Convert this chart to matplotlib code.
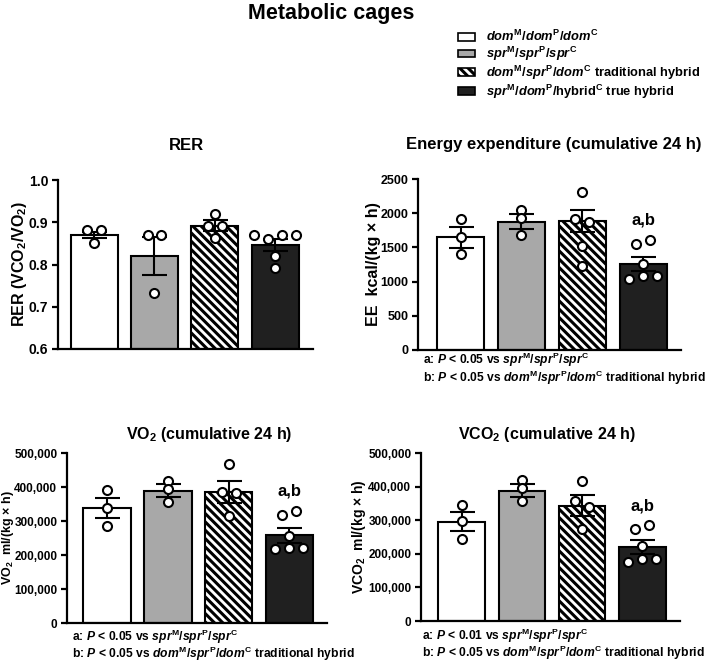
import matplotlib.pyplot as plt
import numpy as np
from matplotlib.patches import Patch
from matplotlib.ticker import FuncFormatter

plt.rcParams['font.family'] = ['Liberation Sans', 'DejaVu Sans']
plt.rcParams['font.weight'] = 'bold'
plt.rcParams['mathtext.fontset'] = 'custom'
plt.rcParams['mathtext.rm'] = 'Liberation Sans:bold'
plt.rcParams['mathtext.it'] = 'Liberation Sans:italic:bold'
plt.rcParams['mathtext.bf'] = 'Liberation Sans:bold'
plt.rcParams['hatch.linewidth'] = 2.2

# groups
group_labels = [
    r'$\mathit{dom}^{\mathrm{M}}/\mathit{dom}^{\mathrm{P}}/\mathit{dom}^{\mathrm{C}}$',
    r'$\mathit{spr}^{\mathrm{M}}/\mathit{spr}^{\mathrm{P}}/\mathit{spr}^{\mathrm{C}}$',
    r'$\mathit{dom}^{\mathrm{M}}/\mathit{spr}^{\mathrm{P}}/\mathit{dom}^{\mathrm{C}}$ traditional hybrid',
    r'$\mathit{spr}^{\mathrm{M}}/\mathit{dom}^{\mathrm{P}}/\mathrm{hybrid}^{\mathrm{C}}$ true hybrid',
]
bar_colors = ['white', '#a8a8a8', 'white', '#202020']
bar_hatches = ['', '', '\\\\\\\\', '']

# RER
rer_mean = [0.870, 0.820, 0.892, 0.846]
rer_sem = [0.008, 0.045, 0.013, 0.014]
rer_points = [[0.882, 0.882, 0.851],
              [0.869, 0.869, 0.732],
              [0.920, 0.891, 0.890, 0.862],
              [0.870, 0.860, 0.870, 0.870, 0.820, 0.791]]

# energy expenditure
ee_mean = [1647, 1877, 1887, 1255]
ee_sem = [150, 112, 160, 105]
ee_points = [[1912, 1657, 1402],
             [2049, 1926, 1681],
             [2304, 1912, 1877, 1520, 1225],
             [1549, 1608, 1255, 1044, 1078, 1078]]

# VO2
vo2_mean = [337600, 388800, 385800, 258000]
vo2_sem = [30000, 19000, 32000, 21500]
vo2_points = [[389800, 337600, 286000],
              [419000, 394000, 357000],
              [467500, 385000, 382000, 315000],
              [318000, 330000, 256000, 217500, 222000, 219500]]

# VCO2
vco2_mean = [295000, 387700, 343000, 219700]
vco2_sem = [28500, 19000, 31000, 21000]
vco2_points = [[346000, 299000, 243500],
               [418500, 395600, 356000],
               [417500, 356000, 338000, 273000],
               [274000, 286000, 223700, 175000, 184000, 184000]]

note_a_005 = r'a: $P$ < 0.05 vs $\mathit{spr}^{\mathrm{M}}/\mathit{spr}^{\mathrm{P}}/\mathit{spr}^{\mathrm{C}}$'
note_a_001 = r'a: $P$ < 0.01 vs $\mathit{spr}^{\mathrm{M}}/\mathit{spr}^{\mathrm{P}}/\mathit{spr}^{\mathrm{C}}$'
note_b = (r'b: $P$ < 0.05 vs $\mathit{dom}^{\mathrm{M}}/\mathit{spr}^{\mathrm{P}}/\mathit{dom}^{\mathrm{C}}$'
          ' traditional hybrid')


def spread(vals, span, tol=0.04, dx=0.23):
    # put points with (almost) the same value side by side
    clusters = []
    for i, v in enumerate(vals):
        for c in clusters:
            if abs(vals[c[0]] - v) < tol * span:
                c.append(i)
                break
        else:
            clusters.append([i])
    offs = np.zeros(len(vals))
    for c in clusters:
        n = len(c)
        for k, i in enumerate(c):
            offs[i] = (k - (n - 1) / 2) * dx
    return offs


def draw_panel(ax, means, sems, points, ylim, yticks, xlim, fmt=None, stars=None, tick_size=9):
    x = np.arange(len(means))
    ax.bar(x, [m - ylim[0] for m in means], bottom=ylim[0], width=0.78,
           color=bar_colors, hatch=bar_hatches, edgecolor='black', linewidth=1.5, zorder=2)
    ax.errorbar(x, means, yerr=sems, fmt='none', ecolor='black', elinewidth=1.5,
                capsize=9, capthick=1.5, zorder=3)
    span = ylim[1] - ylim[0]
    for i, pts in enumerate(points):
        offs = spread(pts, span)
        ax.plot(x[i] + offs, pts, 'o', mfc='white', mec='black', ms=6.5, mew=1.5,
                zorder=4, clip_on=False)
    if stars:
        i = len(means) - 1
        top = max(points[i])
        ax.text(x[i], top + 0.115 * span, stars, ha='center', va='center',
                fontsize=12, fontweight='bold')
    ax.set_ylim(*ylim)
    ax.set_xlim(*xlim)
    ax.set_yticks(yticks)
    if fmt:
        ax.yaxis.set_major_formatter(FuncFormatter(fmt))
    ax.set_xticks([])
    for s in ['top', 'right']:
        ax.spines[s].set_visible(False)
    for s in ['left', 'bottom']:
        ax.spines[s].set_linewidth(1.6)
    ax.tick_params(axis='y', width=1.6, length=4, labelsize=tick_size, pad=3)


W, H = 716, 664
fig = plt.figure(figsize=(W / 100, H / 100), dpi=100)


def add_axes(left, right, top, bottom):
    return fig.add_axes([left / W, 1 - bottom / H, (right - left) / W, (bottom - top) / H])


ax_rer = add_axes(58, 313, 180, 349)
ax_ee = add_axes(418, 681, 179, 350)
ax_vo2 = add_axes(67, 327, 453, 623)
ax_vco2 = add_axes(421, 680, 453, 621)

comma = lambda v, p: '{:,.0f}'.format(v)

draw_panel(ax_rer, rer_mean, rer_sem, rer_points, (0.6, 1.0), np.arange(0.6, 1.01, 0.1),
           (-0.6, 3.63), fmt=lambda v, p: '{:.1f}'.format(v), tick_size=10)
draw_panel(ax_ee, ee_mean, ee_sem, ee_points, (0, 2500), np.arange(0, 2501, 500),
           (-0.7, 3.62), stars='a,b')
draw_panel(ax_vo2, vo2_mean, vo2_sem, vo2_points, (0, 500000), np.arange(0, 500001, 100000),
           (-0.66, 3.62), fmt=comma, stars='a,b', tick_size=8.5)
draw_panel(ax_vco2, vco2_mean, vco2_sem, vco2_points, (0, 500000), np.arange(0, 500001, 100000),
           (-0.68, 3.63), fmt=comma, stars='a,b', tick_size=8.5)

# y labels
ax_rer.set_ylabel(r'RER (VCO$_2$/VO$_2$)', fontsize=11.5, fontweight='bold')
ax_rer.yaxis.set_label_coords(-0.114, 0.5)
ax_ee.set_ylabel(u'EE  kcal/(kg \u00d7 h)', fontsize=11.5, fontweight='bold')
ax_ee.yaxis.set_label_coords(-0.14, 0.5)
ax_vo2.set_ylabel(u'VO$_2$  ml/(kg \u00d7 h)', fontsize=9, fontweight='bold')
ax_vo2.yaxis.set_label_coords(-0.195, 0.5)
ax_vco2.set_ylabel(u'VCO$_2$  ml/(kg \u00d7 h)', fontsize=10, fontweight='bold')
ax_vco2.yaxis.set_label_coords(-0.205, 0.5)

# titles
fig.text(331 / W, 1 - 13 / H, 'Metabolic cages', ha='center', va='center', fontsize=15.5, fontweight='bold')
fig.text(186 / W, 1 - 145 / H, 'RER', ha='center', va='center', fontsize=12, fontweight='bold')
fig.text(554 / W, 1 - 145 / H, 'Energy expenditure (cumulative 24 h)', ha='center', va='center',
         fontsize=12, fontweight='bold')
fig.text(209 / W, 1 - 435 / H, r'VO$_2$ (cumulative 24 h)', ha='center', va='center',
         fontsize=11.5, fontweight='bold')
fig.text(547 / W, 1 - 435 / H, r'VCO$_2$ (cumulative 24 h)', ha='center', va='center',
         fontsize=11.5, fontweight='bold')

# footnotes
ax_ee.text(0.02, -0.06, note_a_005, transform=ax_ee.transAxes, va='center', fontsize=8.7)
ax_ee.text(0.02, -0.165, note_b, transform=ax_ee.transAxes, va='center', fontsize=8.7)
ax_vo2.text(0.02, -0.08, note_a_005, transform=ax_vo2.transAxes, va='center', fontsize=8.7)
ax_vo2.text(0.02, -0.18, note_b, transform=ax_vo2.transAxes, va='center', fontsize=8.7)
ax_vco2.text(0.004, -0.09, note_a_001, transform=ax_vco2.transAxes, va='center', fontsize=8.7)
ax_vco2.text(0.004, -0.19, note_b, transform=ax_vco2.transAxes, va='center', fontsize=8.7)

# legend
handles = [Patch(facecolor=c, edgecolor='black', hatch=h, linewidth=1.2)
           for c, h in zip(bar_colors, bar_hatches)]
fig.legend(handles, group_labels, loc='upper left', bbox_to_anchor=(458 / W, 1 - 29 / H),
           frameon=False, fontsize=9.3, handlelength=1.3, handleheight=0.55, handletextpad=0.9,
           labelspacing=0.05, borderpad=0, borderaxespad=0)

fig.savefig('out.png', dpi=100)
